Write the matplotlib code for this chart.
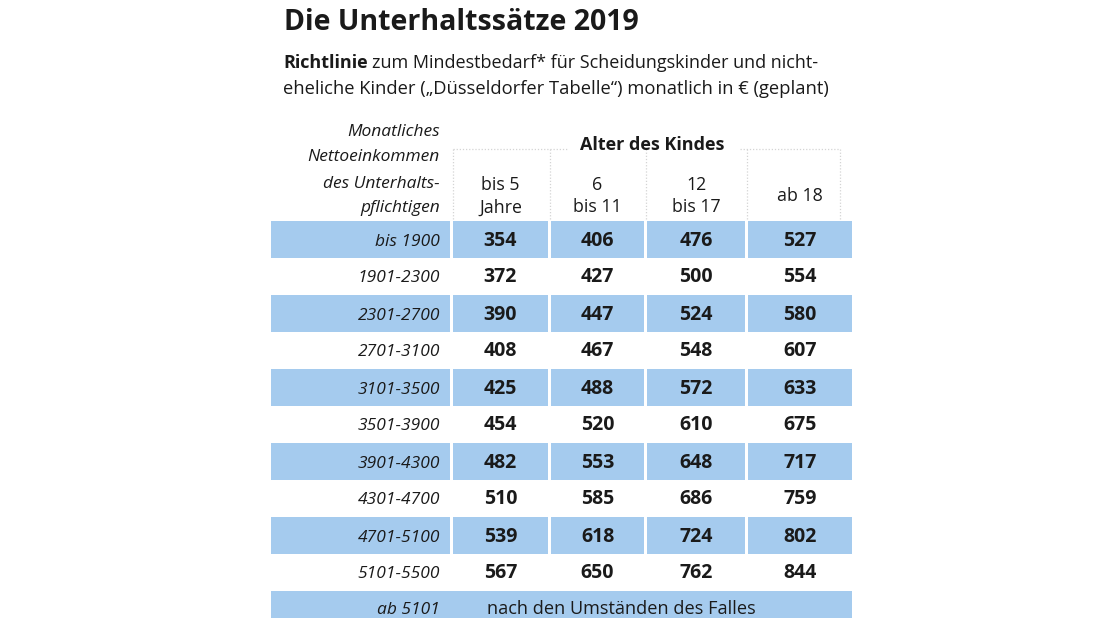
import matplotlib
matplotlib.use("Agg")
import matplotlib.pyplot as plt
from matplotlib.patches import Rectangle

BLUE, INK, DOT = "#a5cbee", "#1a1a1a", "#d4d4d4"
FONT = "Open Sans"

title = "Die Unterhaltssätze 2019"
income = ["bis 1900", "1901-2300", "2301-2700", "2701-3100", "3101-3500",
          "3501-3900", "3901-4300", "4301-4700", "4701-5100", "5101-5500"]
age_groups = ["bis 5\nJahre", "6\nbis 11", "12\nbis 17", "ab 18"]
age_0_5 = [354, 372, 390, 408, 425, 454, 482, 510, 539, 567]
age_6_11 = [406, 427, 447, 467, 488, 520, 553, 585, 618, 650]
age_12_17 = [476, 500, 524, 548, 572, 610, 648, 686, 724, 762]
age_18 = [527, 554, 580, 607, 633, 675, 717, 759, 802, 844]
last_label, last_text = "ab 5101", "nach den Umständen des Falles"

# layout in pixels (figure is 1100 x 618)
label_col = (271, 450)
cols = [(453, 548), (551, 644), (647, 745), (748, 852)]
row_top, row_h = 221, 37

fig = plt.figure(figsize=(11, 6.18), dpi=100)
ax = fig.add_axes([0, 0, 1, 1])
ax.set_xlim(0, 1100)
ax.set_ylim(618, 0)
ax.axis("off")

ax.text(284, 23, title, fontsize=20.5, fontweight="bold", color=INK, va="center", family=FONT)

# subtitle with bold first word
t1 = ax.text(283, 63, "Richtlinie", fontsize=13, fontweight="bold", color=INK,
             va="center", family=FONT)
fig.canvas.draw()
bb = t1.get_window_extent()
x_next = ax.transData.inverted().transform((bb.x1, 0))[0]
ax.text(x_next + 4, 63, "zum Mindestbedarf* für Scheidungskinder und nicht-",
        fontsize=13, color=INK, va="center", family=FONT)
ax.text(283, 89, "eheliche Kinder („Düsseldorfer Tabelle“) monatlich in € (geplant)",
        fontsize=13.2, color=INK, va="center", family=FONT)

# header, left column
for y, s in zip([132, 157, 184, 208],
                ["Monatliches", "Nettoeinkommen", "des Unterhalts-", "pflichtigen"]):
    ax.text(440, y, s, fontsize=12.5, style="italic", color=INK, ha="right", va="center", family=FONT)

# header, age groups
x0, x1 = cols[0][0], cols[-1][1] - 12
ax.text((x0 + x1) / 2 + 6, 145, "Alter des Kindes", fontsize=13, fontweight="bold",
        color=INK, ha="center", va="center", family=FONT)
dots = dict(color=DOT, lw=0.9, ls=(0, (1, 1.5)))
ax.plot([x0, 568], [149, 149], **dots)
ax.plot([740, x1], [149, 149], **dots)
for xv in [x0, 550, 646, 747, x1]:
    ax.plot([xv, xv], [149, row_top - 1], **dots)
for (a, b), s in zip(cols, age_groups):
    ax.text((a + b) / 2, 196, s, fontsize=12.8, color=INK, ha="center", va="center",
            linespacing=1.35, family=FONT)

# body
values = list(zip(age_0_5, age_6_11, age_12_17, age_18))
for i, (lab, vals) in enumerate(zip(income, values)):
    top = row_top + i * row_h
    yc = top + row_h / 2
    if i % 2 == 0:
        ax.add_patch(Rectangle((label_col[0], top), label_col[1] - label_col[0], row_h,
                               facecolor=BLUE, edgecolor="none"))
        for a, b in cols:
            ax.add_patch(Rectangle((a, top), b - a, row_h, facecolor=BLUE, edgecolor="none"))
    ax.text(440, yc + 2, lab, fontsize=12.5, style="italic", color=INK, ha="right", va="center", family=FONT)
    for (a, b), v in zip(cols, vals):
        ax.text((a + b) / 2, yc + 1, str(v), fontsize=14, fontweight="bold", color=INK,
                ha="center", va="center", family=FONT)

top = row_top + len(income) * row_h
ax.add_patch(Rectangle((label_col[0], top), cols[-1][1] - label_col[0], row_h,
                       facecolor=BLUE, edgecolor="none"))
ax.text(440, top + row_h / 2 + 1, last_label, fontsize=12.5, style="italic", color=INK,
        ha="right", va="center", family=FONT)
ax.text(487, top + row_h / 2, last_text, fontsize=13.1, color=INK, ha="left",
        va="center", family=FONT)

fig.savefig("out.png", dpi=100, facecolor="white")
